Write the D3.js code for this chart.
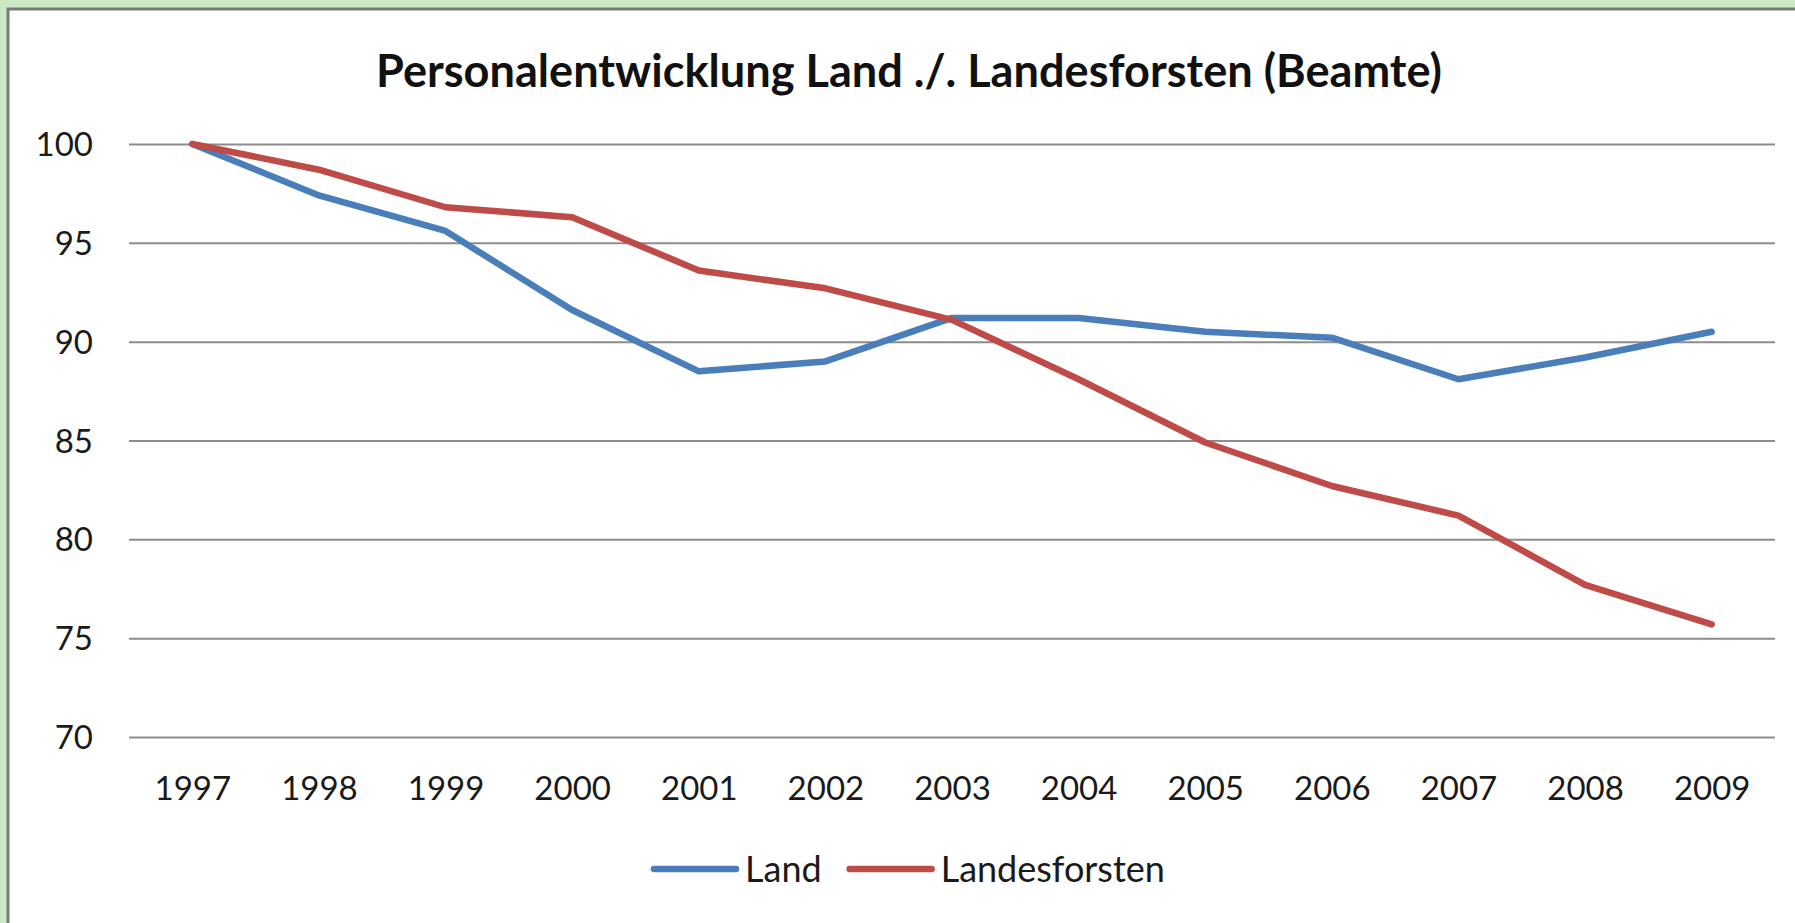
<!DOCTYPE html>
<html>
<head>
<meta charset="utf-8">
<title>Personalentwicklung Land ./. Landesforsten</title>
<script src="https://d3js.org/d3.v7.min.js"></script>
<style>
  body { margin: 0; background: #cce8c4; }
  svg { display: block; }
  svg text { font-family: Lato, "Open Sans", sans-serif; }
  .grid line { stroke: #8c8c8c; stroke-width: 2px; }
  .grid text, .xaxis text { fill: #1a1a1a; font-size: 33px; }
  .series { fill: none; stroke-width: 6.5px; stroke-linejoin: round; stroke-linecap: round; }
</style>
</head>
<body>
<script>
// data
var years = ["1997", "1998", "1999", "2000", "2001", "2002", "2003",
             "2004", "2005", "2006", "2007", "2008", "2009"];
var land = [100, 97.4, 95.6, 91.6, 88.5, 89.0, 91.2, 91.2, 90.5, 90.2, 88.1, 89.2, 90.5];
var landesforsten = [100, 98.7, 96.8, 96.3, 93.6, 92.7, 91.1, 88.1, 84.9, 82.7, 81.2, 77.7, 75.7];
var yTicks = [70, 75, 80, 85, 90, 95, 100];
var seriesNames = ["Land", "Landesforsten"];
var seriesColors = ["#4a7ebb", "#be4b48"];
var title = "Personalentwicklung Land ./. Landesforsten (Beamte)";

var w = 1795, h = 923;
var plotLeft = 129, plotRight = 1775, plotTop = 144, plotBottom = 737;

var svg = d3.select("body").append("svg")
    .attr("width", w)
    .attr("height", h);

// green page + white chart frame
svg.append("rect")
    .attr("width", w).attr("height", h)
    .attr("fill", "#cce8c4");
svg.append("rect")
    .attr("x", 8).attr("y", 9)
    .attr("width", w + 20).attr("height", h + 20)
    .attr("fill", "#fff")
    .attr("stroke", "#7a7a7a")
    .attr("stroke-width", 3);

var x = d3.scalePoint()
    .domain(years)
    .range([plotLeft, plotRight])
    .padding(0.5);

var y = d3.scaleLinear()
    .domain([70, 100])
    .range([plotBottom, plotTop]);

// gridlines + y labels
var grid = svg.append("g")
    .attr("class", "grid")
    .attr("transform", "translate(" + plotLeft + ",0)")
    .call(d3.axisLeft(y)
        .tickValues(yTicks)
        .tickSize(-(plotRight - plotLeft))
        .tickPadding(36)
        .tickFormat(d3.format("d")));
grid.select(".domain").remove();
grid.selectAll("text").attr("dy", "0.35em");

// x labels
var xaxis = svg.append("g")
    .attr("class", "xaxis")
    .attr("transform", "translate(0," + plotBottom + ")")
    .call(d3.axisBottom(x).tickSize(0));
xaxis.select(".domain").remove();
xaxis.selectAll("text").attr("dy", null).attr("y", 63);

// lines
var line = d3.line()
    .x(function(d, i) { return x(years[i]); })
    .y(function(d) { return y(d); });

[land, landesforsten].forEach(function(values, k) {
    svg.append("path")
        .datum(values)
        .attr("class", "series")
        .attr("stroke", seriesColors[k])
        .attr("d", line);
});

// title, fitted to the original width
var t = svg.append("text")
    .attr("x", (376 + 1442) / 2)
    .attr("y", 87)
    .attr("text-anchor", "middle")
    .attr("font-weight", "bold")
    .attr("font-size", 40)
    .attr("fill", "#111")
    .text(title);
var tw = t.node().getComputedTextLength();
t.attr("font-size", 40 * 1066 / tw);

// legend
var lg = svg.append("g").attr("class", "legend");
var lx = 654, ly = 869;
seriesNames.forEach(function(name, k) {
    lg.append("line")
        .attr("x1", lx).attr("x2", lx + 82)
        .attr("y1", ly).attr("y2", ly)
        .attr("stroke", seriesColors[k])
        .attr("stroke-width", 6.5)
        .attr("stroke-linecap", "round");
    var txt = lg.append("text")
        .attr("x", lx + 91)
        .attr("y", ly)
        .attr("dy", "0.35em")
        .attr("font-size", 36)
        .attr("fill", "#1a1a1a")
        .text(name);
    lx += 91 + txt.node().getComputedTextLength() + 28;
});
</script>
</body>
</html>
